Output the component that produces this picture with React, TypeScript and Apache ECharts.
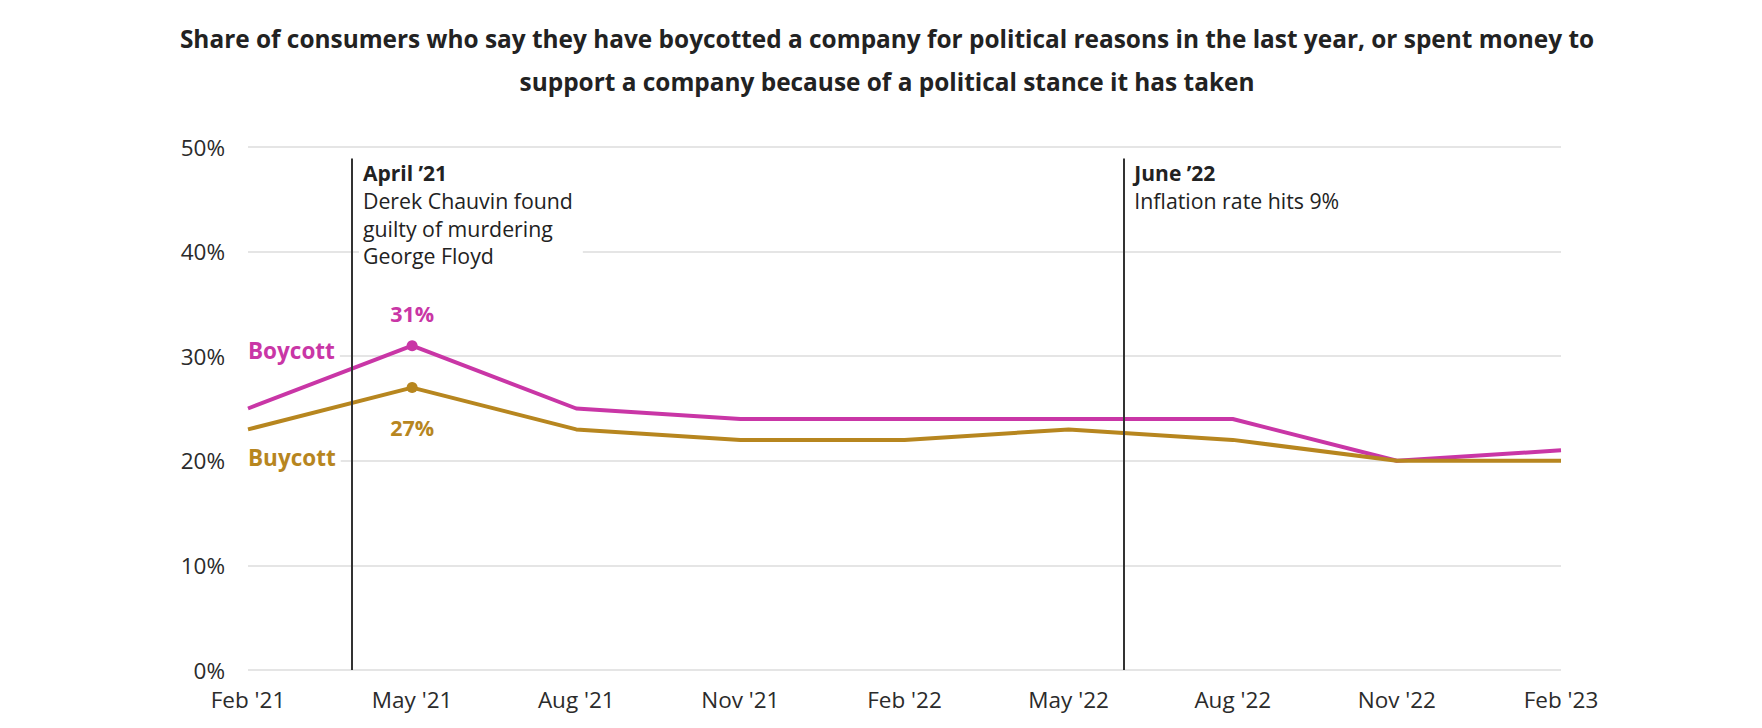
import React, { useEffect, useRef } from "react";
import * as echarts from "echarts";

// ---- data ----
const monthIndex = [0, 3, 6, 9, 12, 15, 18, 21, 24];
const tickLabels = ["Feb '21", "May '21", "Aug '21", "Nov '21", "Feb '22", "May '22", "Aug '22", "Nov '22", "Feb '23"];
const boycott = [25, 31, 25, 24, 24, 24, 24, 20, 21];
const buycott = [23, 27, 23, 22, 22, 23, 22, 20, 20];
const highlightIndex = 1;

const eventX = [1.9, 16];
const eventTop = 48.9;
const eventTitles = ["April ’21", "June ’22"];
const eventTexts = [["Derek Chauvin found", "guilty of murdering", "George Floyd"], ["Inflation rate hits 9%"]];

const titleText =
  "Share of consumers who say they have boycotted a company for political reasons in the last year, or spent money to\nsupport a company because of a political stance it has taken";

const FONT = "'Open Sans', sans-serif";
const MAGENTA = "#C936A6";
const GOLD = "#B7861F";
const TEXT = "#2b2b2b";

export default function App() {
  const ref = useRef<HTMLDivElement>(null);

  useEffect(() => {
    document.body.style.margin = "0";
    const chart = echarts.init(ref.current!, null, { renderer: "svg" });

    const mkData = (vals: number[], pos: string, dist: number, color: string) =>
      vals.map((v, i) =>
        i === highlightIndex
          ? {
              value: [monthIndex[i], v],
              symbol: "circle",
              symbolSize: 11,
              label: {
                show: true,
                position: pos,
                distance: dist,
                formatter: (p: any) => p.value[1] + "%",
                color,
                fontFamily: FONT,
                fontWeight: "bold",
                fontSize: 21.5,
              },
            }
          : { value: [monthIndex[i], v], symbol: "none" }
      );

    chart.setOption({
      animation: false,
      backgroundColor: "#fff",
      textStyle: { fontFamily: FONT },
      title: {
        text: titleText,
        left: 882,
        textAlign: "center",
        top: 12,
        textStyle: { fontFamily: FONT, fontWeight: "bold", fontSize: 24.4, lineHeight: 43, color: "#222" },
      },
      grid: { left: 248, right: 201, top: 147, bottom: 58, containLabel: false },
      xAxis: {
        type: "value",
        min: 0,
        max: 24,
        interval: 3,
        axisLine: { show: false },
        axisTick: { show: false },
        splitLine: { show: false },
        axisLabel: {
          margin: 18,
          fontSize: 22.5,
          color: TEXT,
          fontFamily: FONT,
          formatter: (v: number) => {
            const i = monthIndex.indexOf(v);
            return i >= 0 ? tickLabels[i] : "";
          },
        },
      },
      yAxis: {
        type: "value",
        min: 0,
        max: 50,
        interval: 10,
        axisLine: { show: false },
        axisTick: { show: false },
        splitLine: { lineStyle: { color: "#dddddd", width: 1.5 } },
        axisLabel: { margin: 23, fontSize: 22.5, color: TEXT, fontFamily: FONT, formatter: "{value}%" },
      },
      series: [
        {
          name: "Boycott",
          type: "line",
          data: mkData(boycott, "top", 16, MAGENTA),
          showSymbol: true,
          lineStyle: { color: MAGENTA, width: 4 },
          itemStyle: { color: MAGENTA },
          z: 3,
          markLine: {
            silent: true,
            symbol: ["none", "none"],
            label: { show: false },
            lineStyle: { color: "#333", width: 2, type: "solid" },
            data: eventX.map((x) => [{ coord: [x, eventTop] }, { coord: [x, 0] }]),
          },
        },
        {
          name: "Buycott",
          type: "line",
          data: mkData(buycott, "bottom", 23, GOLD),
          showSymbol: true,
          lineStyle: { color: GOLD, width: 4 },
          itemStyle: { color: GOLD },
          z: 3,
        },
      ],
    });

    // annotation texts positioned from data coordinates
    const graphics: any[] = [];
    eventX.forEach((x, k) => {
      const p = chart.convertToPixel({ gridIndex: 0 }, [x, eventTop]) as number[];
      graphics.push({
        type: "text",
        z: 1,
        x: p[0] + 7,
        y: p[1] - 1,
        style: {
          text: "{b|" + eventTitles[k] + "}\n" + eventTexts[k].map((t) => "{r|" + t + "}").join("\n"),
          backgroundColor: "#fff",
          padding: [2, 10, 4, 4],
          rich: {
            b: { fontFamily: FONT, fontWeight: "bold", fontSize: 21, lineHeight: 27.5, fill: "#222" },
            r: { fontFamily: FONT, fontSize: 21.3, lineHeight: 27.5, fill: "#222" },
          },
        },
      });
    });
    const nameLabels = [
      { name: "Boycott", v: boycott[0], color: MAGENTA, dy: -58 },
      { name: "Buycott", v: buycott[0], color: GOLD, dy: 28 },
    ];
    nameLabels.forEach((n) => {
      const p = chart.convertToPixel({ gridIndex: 0 }, [monthIndex[0], n.v]) as number[];
      graphics.push({
        type: "text",
        z: 1,
        x: p[0],
        y: p[1] + n.dy,
        style: {
          text: n.name,
          fill: n.color,
          font: "bold 22.5px " + FONT,
          verticalAlign: "middle",
          align: "left",
          backgroundColor: "#fff",
          padding: [0, 5, 0, 0],
        },
      });
    });
    chart.setOption({ graphic: graphics });

    return () => chart.dispose();
  }, []);

  return <div ref={ref} style={{ width: 1762, height: 728 }} />;
}
